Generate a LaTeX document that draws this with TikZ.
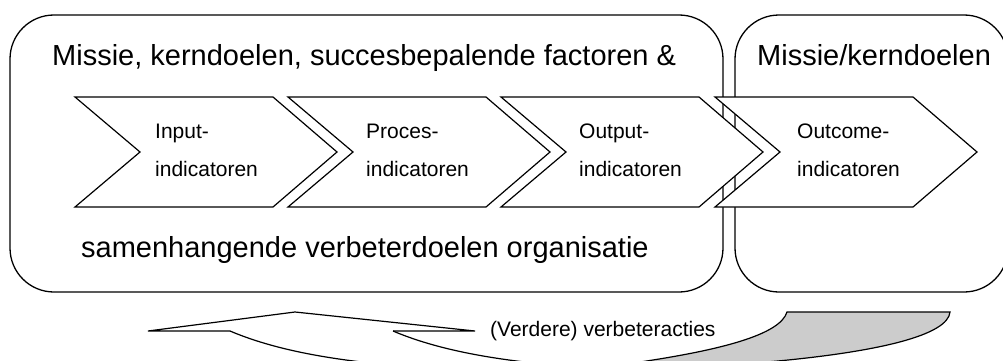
\documentclass[tikz,border=0pt]{standalone}
\usepackage{fontspec}
\setmainfont{Liberation Sans}
\begin{document}
\begin{tikzpicture}[x=1pt,y=-1pt,
  frame/.style={draw=black,line width=1.3pt,rounded corners=44pt},
  chev/.style={draw=black,fill=white,line width=1.2pt,line join=miter},
  bigtext/.style={anchor=base west,inner sep=0pt,font=\fontsize{29}{29}\selectfont},
  smalltext/.style={anchor=base west,inner sep=0pt,font=\fontsize{21}{21}\selectfont},
  band/.style={draw=black,line width=1.2pt}]
\useasboundingbox (0,0) rectangle (1003,361);
\clip (0,0) rectangle (1003,361);
% frames
\draw[frame] (10,15) rectangle (723,292);
\draw[frame] (735,15) rectangle (1008,292);
% chevrons
\foreach \x in {75,288,501,715}{
  \draw[chev] (\x,97) -- ++(198,0) -- ++(64,55) -- ++(-64,55) -- ++(-198,0) -- ++(65,-55) -- cycle;
}
% texts
\node[bigtext] (t1) at (52,66) {Missie, kerndoelen, succesbepalende factoren \&};
\node[bigtext] (t2) at (757,66) {Missie/kerndoelen};
\node[bigtext] (t3) at (81,257) {samenhangende verbeterdoelen organisatie};
\node[smalltext] (a1) at (155,138) {Input-};
\node[smalltext] (a2) at (155,176) {indicatoren};
\node[smalltext] (b1) at (366,138) {Proces-};
\node[smalltext] (b2) at (366,176) {indicatoren};
\node[smalltext] (c1) at (579,138) {Output-};
\node[smalltext] (c2) at (579,176) {indicatoren};
\node[smalltext] (d1) at (797,138) {Outcome-};
\node[smalltext] (d2) at (797,176) {indicatoren};
% curved arrow
\fill[gray!40] (640,362) .. controls (720,350) and (780,335) .. (787,312) -- (950,312)
  .. controls (948,335) and (880,352) .. (767,362) -- (767,370) -- (640,370) -- cycle;
\draw[band,line join=miter] (230,331) -- (148,331) -- (295,312) -- (475,331) -- (393,331);
\draw[band] (230,331) .. controls (270,348) and (320,358) .. (380,364);
\draw[band] (393,331) .. controls (433,348) and (483,358) .. (543,364);
\draw[band] (640,362) .. controls (720,350) and (780,335) .. (787,312) -- (950,312)
  .. controls (948,335) and (880,352) .. (767,362);
\node[smalltext] (v) at (490,336) {(Verdere) verbeteracties};
\end{tikzpicture}
\end{document}
